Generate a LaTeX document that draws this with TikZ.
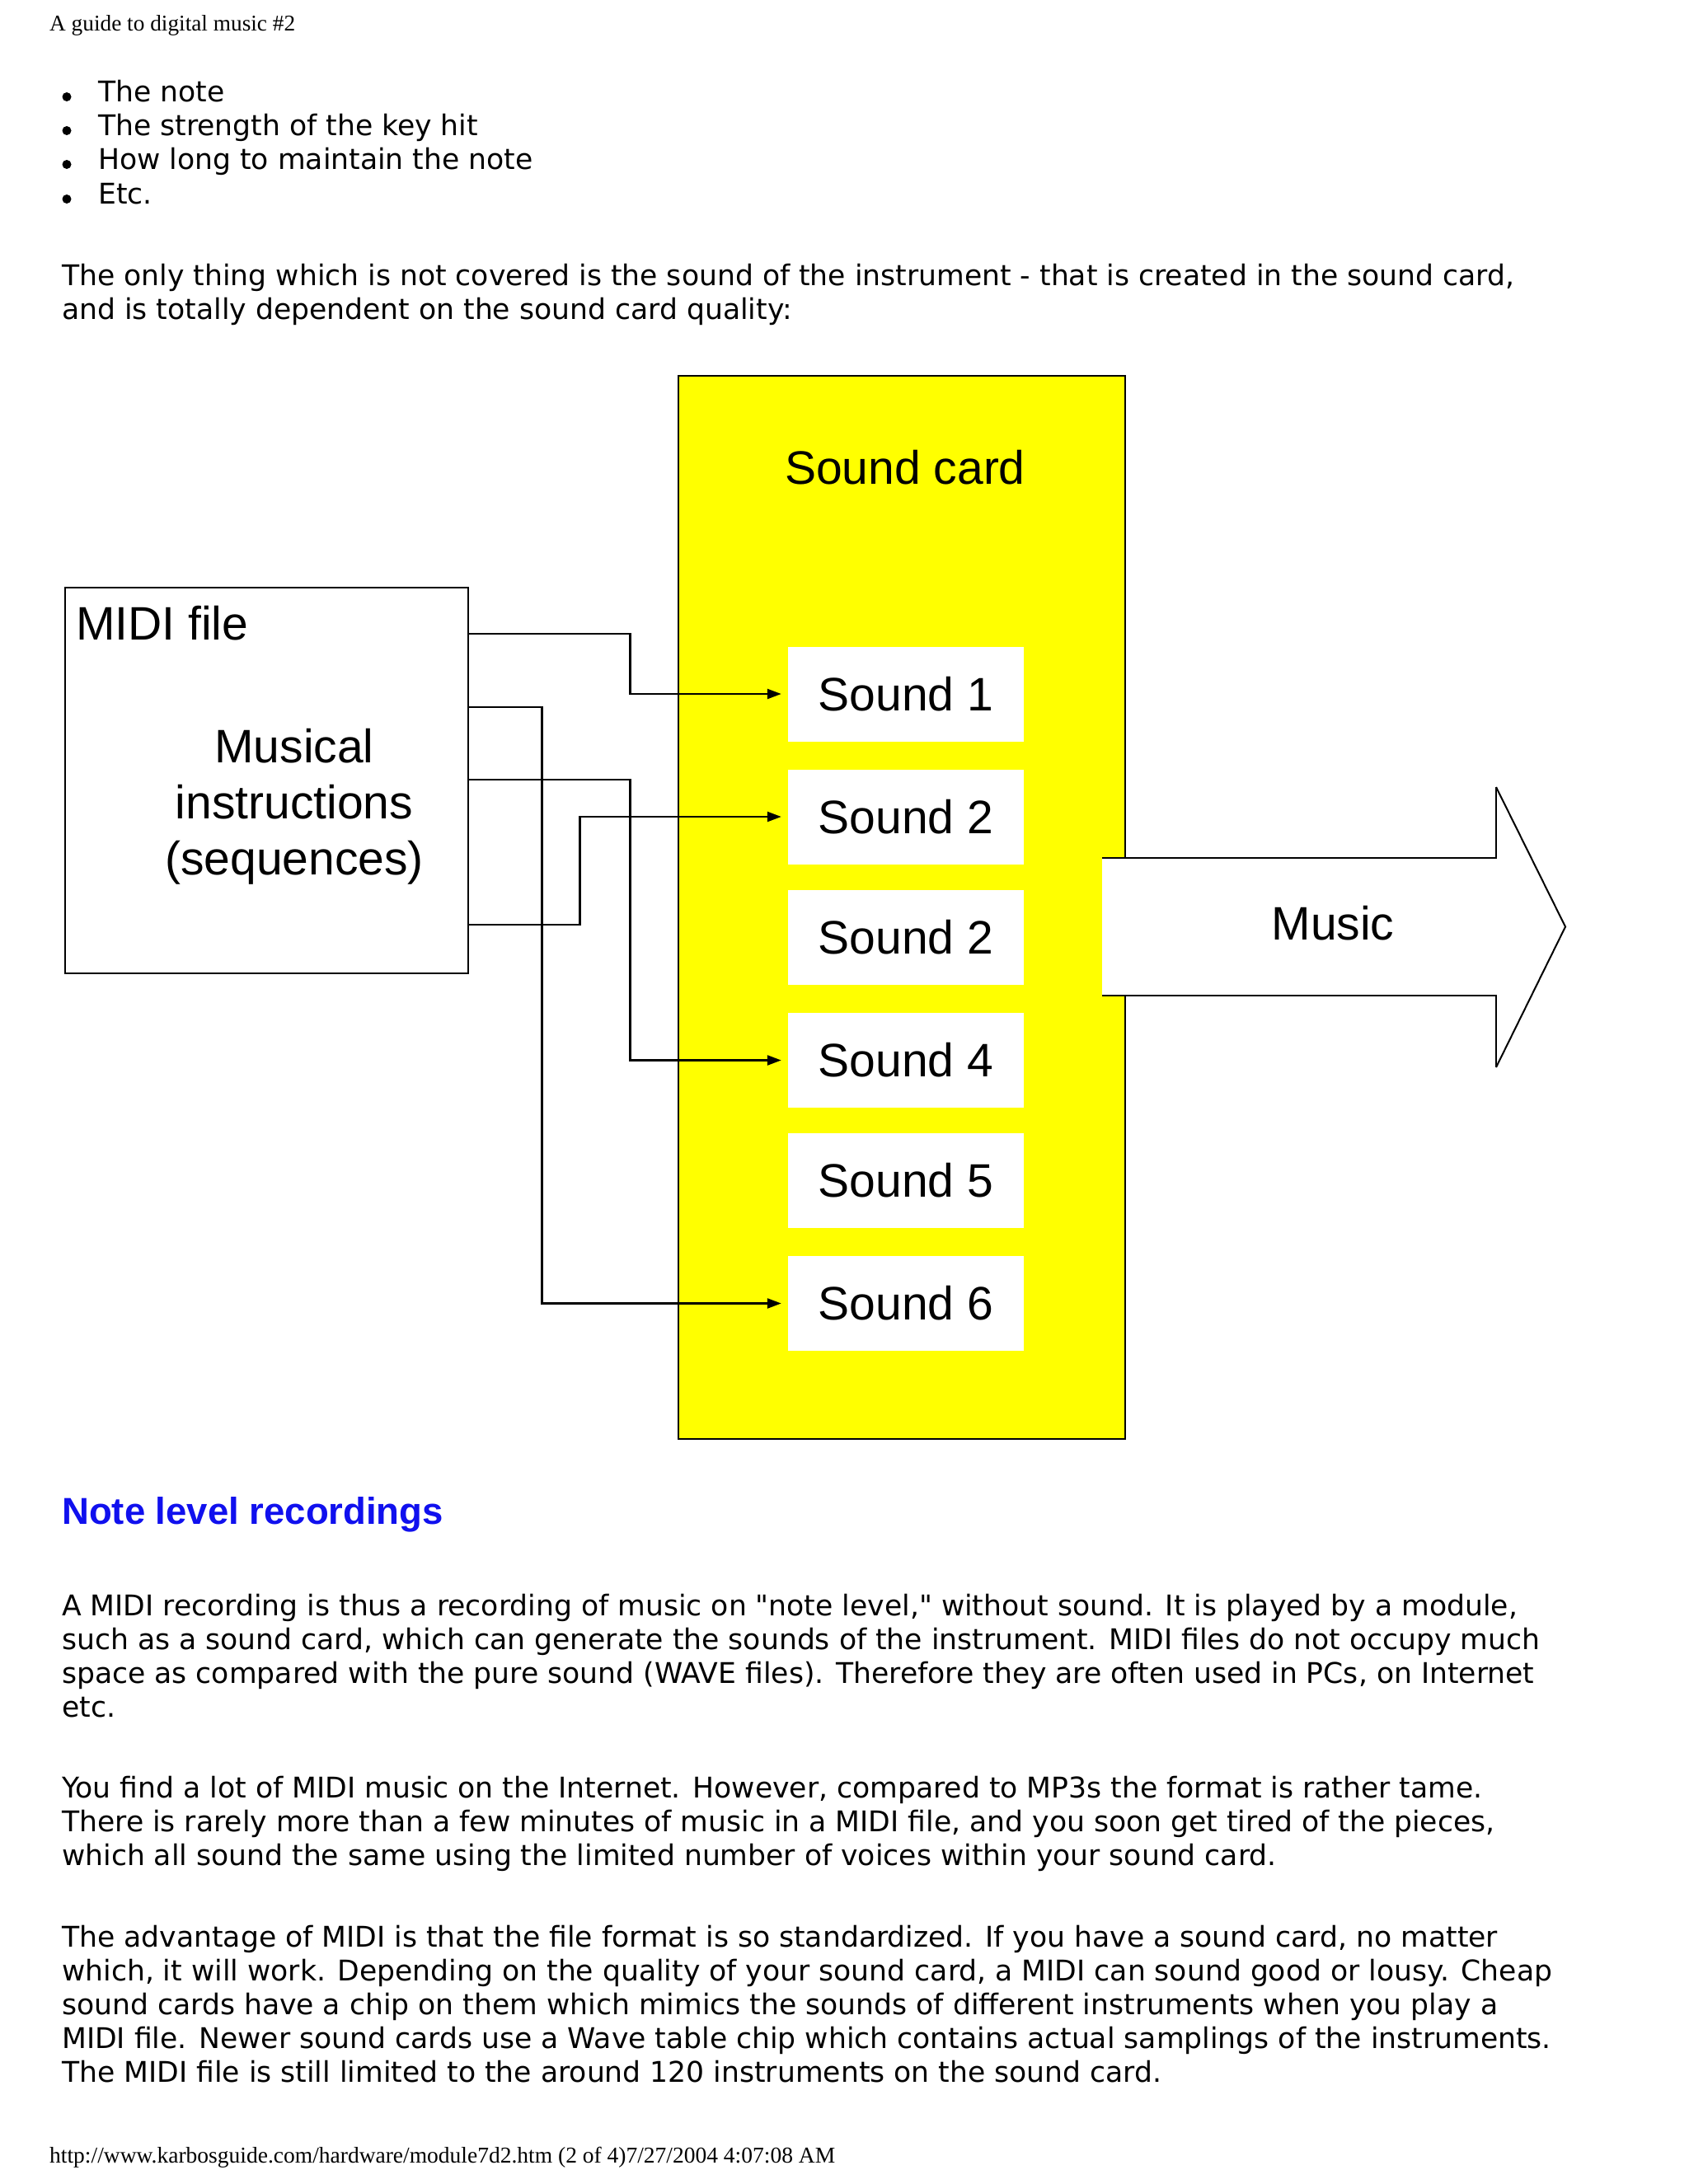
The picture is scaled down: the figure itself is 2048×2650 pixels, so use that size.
\documentclass[tikz,border=0pt]{standalone}
\usepackage{fontspec}
\setmainfont{DejaVu Sans}[Ligatures=TeXOff]
\newfontfamily\arialf{Liberation Sans}
\newfontfamily\timesf{Liberation Serif}
\usetikzlibrary{arrows.meta,calc}
\definecolor{cardyellow}{RGB}{255,255,0}
\definecolor{headblue}{RGB}{16,16,238}
\tikzset{
  body/.style={anchor=base west,inner sep=0pt,font=\fontsize{34.6}{41}\selectfont},
  bulletdot/.style={circle,fill=black,inner sep=0pt,minimum size=11pt},
  diag/.style={font=\arialf\fontsize{57}{68}\selectfont,inner sep=0pt},
  soundbox/.style={fill=white,draw=none,minimum width=286pt,minimum height=115pt,inner sep=0pt,font=\arialf\fontsize{57}{68}\selectfont},
  conn/.style={line width=2.5pt,-{Triangle[length=17pt,width=12pt]},shorten >=8pt},
  frame/.style={line width=2.5pt},
}
\begin{document}
\begin{tikzpicture}[x=1pt,y=-1pt]
\useasboundingbox[fill=white] (0,0) rectangle (2048,2650);
% header
\node[anchor=base west,inner sep=0pt,font=\timesf\fontsize{27.3}{31}\selectfont] (hdr) at (60,37) {A guide to digital music \#2};
% bullets
\foreach \y/\t [count=\i] in {123/{The note},164/{The strength of the key hit},205/{How long to maintain the note},247/{Etc.}}{
  \node[bulletdot] (bul\i) at (81,\y-5.5) {};
  \node[body] (item\i) at (119,\y) {\t};
}
\node[body] (p0a) at (75,346) {The only thing which is not covered is the sound of the instrument - that is created in the sound card,};
\node[body] (p0b) at (75,387) {and is totally dependent on the sound card quality:};
% sound card
\node[draw,frame,fill=cardyellow,minimum width=542pt,minimum height=1290pt,inner sep=0pt] (card) at (1094,1101) {};
\node[diag,anchor=base] (cardlbl) at (1098,587) {Sound card};
% MIDI box
\node[draw,frame,fill=white,minimum width=489pt,minimum height=468pt,inner sep=0pt] (midi) at (323.5,947) {};
\node[diag,anchor=base west] (midilbl) at (92,776) {MIDI file};
\node[diag,anchor=base] (mus1) at (357,925) {Musical};
\node[diag,anchor=base] (mus2) at (357,993) {instructions};
\node[diag,anchor=base] (mus3) at (357,1061) {(sequences)};
% sound boxes
\node[soundbox] (s1) at (1099,842) {Sound 1};
\node[soundbox] (s2) at (1099,991) {Sound 2};
\node[soundbox] (s3) at (1099,1137.5) {Sound 2};
\node[soundbox] (s4) at (1099,1286.5) {Sound 4};
\node[soundbox] (s5) at (1099,1432) {Sound 5};
\node[soundbox] (s6) at (1099,1581.5) {Sound 6};
% connectors
\draw[conn] ([yshift=-57pt]midi.north east) -- ++(195,0) |- (s1.west);
\draw[conn] ([yshift=-146pt]midi.north east) -- ++(88,0) |- (s6.west);
\draw[conn] ([yshift=-234pt]midi.north east) -- ++(195,0) |- (s4.west);
\draw[conn] ([yshift=-410pt]midi.north east) -- ++(134,0) |- (s2.west);
% big arrow
\fill[white] (1337,1041) -- (1815,1041) -- (1815,955) -- (1899,1124.5) -- (1815,1295) -- (1815,1208) -- (1337,1208) -- cycle;
\draw[frame] (1337,1041) -- (1815,1041) -- (1815,955);
\draw[frame] (1815,1295) -- (1815,1208) -- (1337,1208);
\draw[line width=2pt] (1815,955) -- (1899,1124.5) -- (1815,1295);
\node[diag,anchor=base] (music) at (1617,1140) {Music};
% heading
\node[anchor=base west,inner sep=0pt,text=headblue,font=\arialf\bfseries\fontsize{45.5}{54}\selectfont] (head) at (75,1849) {Note level recordings};
% paragraphs
\node[body] (a1) at (75,1960) {A MIDI recording is thus a recording of music on "note level," without sound. It is played by a module,};
\node[body] (a2) at (75,2001) {such as a sound card, which can generate the sounds of the instrument. MIDI files do not occupy much};
\node[body] (a3) at (75,2042) {space as compared with the pure sound (WAVE files). Therefore they are often used in PCs, on Internet};
\node[body] (a4) at (75,2083) {etc.};
\node[body] (b1) at (75,2181) {You find a lot of MIDI music on the Internet. However, compared to MP3s the format is rather tame.};
\node[body] (b2) at (75,2222) {There is rarely more than a few minutes of music in a MIDI file, and you soon get tired of the pieces,};
\node[body] (b3) at (75,2263) {which all sound the same using the limited number of voices within your sound card.};
\node[body] (c1) at (75,2362) {The advantage of MIDI is that the file format is so standardized. If you have a sound card, no matter};
\node[body] (c2) at (75,2403) {which, it will work. Depending on the quality of your sound card, a MIDI can sound good or lousy. Cheap};
\node[body] (c3) at (75,2444) {sound cards have a chip on them which mimics the sounds of different instruments when you play a};
\node[body] (c4) at (75,2485) {MIDI file. Newer sound cards use a Wave table chip which contains actual samplings of the instruments.};
\node[body] (c5) at (75,2526) {The MIDI file is still limited to the around 120 instruments on the sound card.};
% footer
\node[anchor=base west,inner sep=0pt,font=\timesf\fontsize{27.5}{31}\selectfont] (ftr) at (60,2624) {http://www.karbosguide.com/hardware/module7d2.htm (2 of 4)7/27/2004 4:07:08 AM};
\end{tikzpicture}
\end{document}
